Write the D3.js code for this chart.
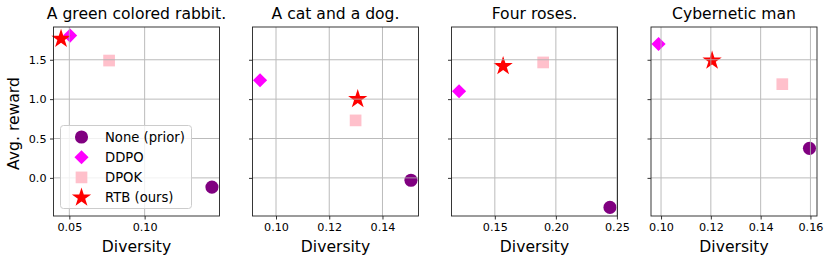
<!DOCTYPE html>
<html><head><meta charset="utf-8">
<script src="https://cdn.jsdelivr.net/npm/d3@7"></script>
<style>body{margin:0;background:#fff}svg{display:block;font-family:"DejaVu Sans",sans-serif}</style>
</head><body><svg id="c" width="830" height="264"></svg>
<script>
const titles = ["A green colored rabbit.", "A cat and a dog.", "Four roses.", "Cybernetic man"];
const methods = ["None (prior)", "DDPO", "DPOK", "RTB (ours)"];
const colors = ["purple", "magenta", "pink", "red"];
const shapes = ["circle", "diamond", "square", "star"];
// diversity per panel, per method
const diversity = [
  [0.1447, 0.0505, 0.0764, 0.0445],
  [0.1507, 0.0940, 0.1299, 0.1307],
  [0.2443, 0.1207, 0.1896, 0.1568],
  [0.1596, 0.0990, 0.1487, 0.1205]
];
const reward = [
  [-0.117, 1.807, 1.49, 1.765],
  [-0.03, 1.24, 0.73, 1.00],
  [-0.375, 1.10, 1.466, 1.42],
  [0.375, 1.70, 1.19, 1.49]
];
const xTicks = [[0.05, 0.10], [0.10, 0.12, 0.14], [0.15, 0.20, 0.25], [0.10, 0.12, 0.14, 0.16]];
const yTicks = [0.0, 0.5, 1.0, 1.5];

const svg = d3.select("#c");
const panelLeft = [53.5, 252.5, 451.5, 651];
const pw = 166, plotTop = 27, plotBottom = 216;

const allR = reward.flat();
const rmin = d3.min(allR), rmax = d3.max(allR), rpad = (rmax - rmin) * 0.05;
const y = d3.scaleLinear().domain([rmin - rpad, rmax + rpad]).range([plotBottom, plotTop]);

const symType = {circle: d3.symbolCircle, diamond: d3.symbolSquare, square: d3.symbolSquare, star: d3.symbolStar};
const symSize = {circle: 135, diamond: 100, square: 137, star: 115};
function drawMarker(g, shape, color, cx, cy) {
  return g.append("path").attr("d", d3.symbol().type(symType[shape]).size(symSize[shape])()).attr("fill", color)
    .attr("transform", `translate(${cx},${cy})` + (shape === "diamond" ? " rotate(45)" : ""));
}

titles.forEach((t, i) => {
  const d = diversity[i];
  const dmin = d3.min(d), dmax = d3.max(d), pad = (dmax - dmin) * 0.05;
  const x = d3.scaleLinear().domain([dmin - pad, dmax + pad]).range([panelLeft[i], panelLeft[i] + pw]);
  const g = svg.append("g");
  d.forEach((dv, k) => drawMarker(g, shapes[k], colors[k], x(dv), y(reward[i][k])));
  const grid = g.append("g").attr("stroke", "#b0b0b0").attr("stroke-width", 1).attr("opacity", 0.85);
  xTicks[i].forEach(v => grid.append("line").attr("x1", x(v)).attr("x2", x(v)).attr("y1", plotTop).attr("y2", plotBottom));
  yTicks.forEach(v => grid.append("line").attr("x1", panelLeft[i]).attr("x2", panelLeft[i] + pw).attr("y1", y(v)).attr("y2", y(v)));
  const xa = g.append("g").attr("transform", `translate(0,${plotBottom})`)
    .call(d3.axisBottom(x).tickValues(xTicks[i]).tickFormat(d3.format(".2f")).tickSize(3.5).tickPadding(3.5));
  const ya = g.append("g").attr("transform", `translate(${panelLeft[i]},0)`)
    .call(d3.axisLeft(y).tickValues(yTicks).tickFormat(i === 0 ? d3.format(".1f") : () => "").tickSize(3.5).tickPadding(3.5));
  [xa, ya].forEach(a => {
    a.select(".domain").remove();
    a.selectAll("text").attr("font-size", 11.2).attr("font-family", "DejaVu Sans").attr("fill", "#000");
    a.selectAll("line").attr("stroke", "#000").attr("stroke-width", 0.8);
  });
  g.append("rect").attr("x", panelLeft[i]).attr("y", plotTop).attr("width", pw).attr("height", plotBottom - plotTop)
    .attr("fill", "none").attr("stroke", "#222").attr("stroke-width", 0.9);
  g.append("text").attr("x", panelLeft[i] + pw / 2).attr("y", 19).attr("text-anchor", "middle")
    .attr("font-size", 15.6).text(t);
  g.append("text").attr("x", panelLeft[i] + pw / 2).attr("y", 252).attr("text-anchor", "middle")
    .attr("font-size", 15.6).text("Diversity");
});

svg.append("text").attr("transform", "translate(19,123.5) rotate(-90)").attr("text-anchor", "middle")
  .attr("font-size", 15.6).text("Avg. reward");

const lg = svg.append("g");
lg.append("rect").attr("x", 60.5).attr("y", 125.5).attr("width", 131).attr("height", 83).attr("rx", 3)
  .attr("fill", "white").attr("fill-opacity", 0.8).attr("stroke", "#cccccc").attr("stroke-width", 1);
methods.forEach((m, k) => {
  const cy = 137 + k * 20.2;
  drawMarker(lg, shapes[k], colors[k], 81.5, cy);
  lg.append("text").attr("x", 105).attr("y", cy + 4.8).attr("font-size", 13.2).text(m);
});
</script></body></html>
